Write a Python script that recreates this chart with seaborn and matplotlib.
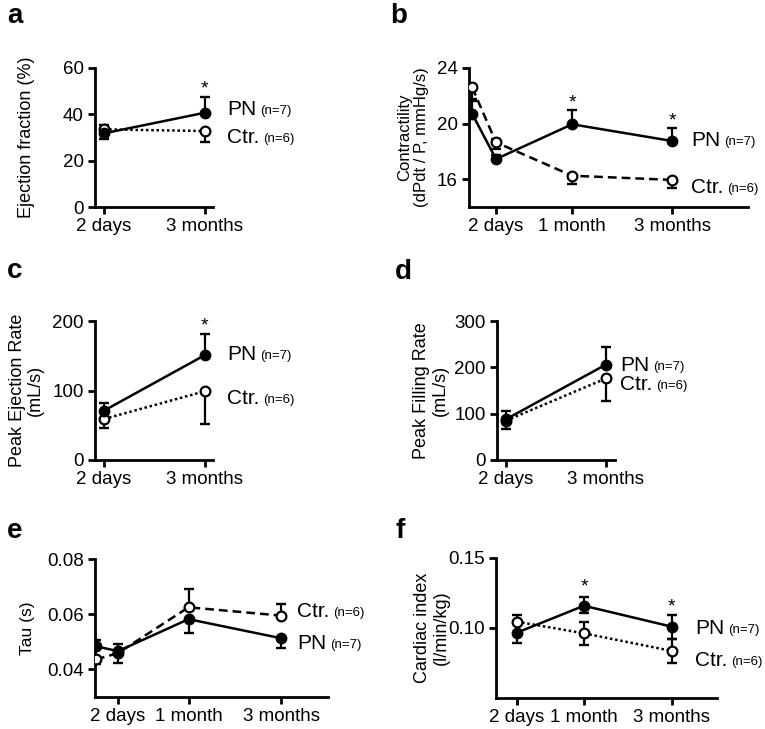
import numpy as np
import pandas as pd
import matplotlib
matplotlib.use("Agg")
import matplotlib.pyplot as plt
import seaborn as sns

sns.set_style("ticks")
plt.rcParams["font.family"] = ["Liberation Sans", "DejaVu Sans"]
plt.rcParams["text.color"] = "black"
plt.rcParams["axes.labelcolor"] = "black"
plt.rcParams["axes.edgecolor"] = "black"
plt.rcParams["xtick.color"] = "black"
plt.rcParams["ytick.color"] = "black"

# ---- values ----
# a: ejection fraction (%)
a_time = ["2 days", "3 months"]
a_pn = [31.8, 40.7]
a_pn_lo = [2.6, 0.0]
a_pn_hi = [0.0, 6.6]
a_ctr = [33.5, 32.8]
a_ctr_lo = [0.0, 4.9]
a_ctr_hi = [1.9, 0.0]
a_stars = [("3 months", 52.7)]
a_label_y = [41.9, 30.2]

# b: contractility
b_time = ["baseline", "2 days", "1 month", "3 months"]
b_pn = [20.7, 17.45, 19.95, 18.75]
b_pn_lo = [0.0, 0.0, 0.0, 0.0]
b_pn_hi = [0.9, 0.3, 1.05, 0.95]
b_ctr = [22.6, 18.65, 16.25, 15.95]
b_ctr_lo = [0.85, 0.5, 0.6, 0.55]
b_ctr_hi = [0.0, 0.25, 0.0, 0.0]
b_stars = [("1 month", 21.76), ("3 months", 20.48)]
b_label_y = [18.8, 15.4]

# c: peak ejection rate
c_time = ["2 days", "3 months"]
c_pn = [71.0, 151.0]
c_pn_lo = [0.0, 0.0]
c_pn_hi = [10.5, 30.0]
c_ctr = [59.0, 99.0]
c_ctr_lo = [13.5, 47.7]
c_ctr_hi = [0.0, 0.0]
c_stars = [("3 months", 199.0)]
c_label_y = [152.0, 88.8]

# d: peak filling rate
d_time = ["2 days", "3 months"]
d_pn = [88.0, 206.0]
d_pn_lo = [0.0, 0.0]
d_pn_hi = [18.0, 38.5]
d_ctr = [85.0, 176.0]
d_ctr_lo = [18.0, 48.0]
d_ctr_hi = [0.0, 0.0]
d_stars = []
d_label_y = [205.0, 162.0]

# e: tau
e_time = ["baseline", "2 days", "1 month", "3 months"]
e_pn = [0.0484, 0.0466, 0.0582, 0.0513]
e_pn_lo = [0.0, 0.0, 0.0050, 0.0035]
e_pn_hi = [0.0024, 0.0027, 0.0, 0.0]
e_ctr = [0.0436, 0.0459, 0.0625, 0.0595]
e_ctr_lo = [0.0018, 0.0034, 0.0, 0.0]
e_ctr_hi = [0.0, 0.0, 0.0066, 0.0042]
e_stars = []
e_label_y = [0.0495, 0.0610]

# f: cardiac index
f_time = ["2 days", "1 month", "3 months"]
f_pn = [0.0967, 0.1159, 0.1009]
f_pn_lo = [0.0076, 0.0055, 0.0090]
f_pn_hi = [0.0, 0.0060, 0.0084]
f_ctr = [0.1045, 0.0962, 0.0836]
f_ctr_lo = [0.0, 0.0083, 0.0084]
f_ctr_hi = [0.0048, 0.0079, 0.0084]
f_stars = [("1 month", 0.1324), ("3 months", 0.1176)]
f_label_y = [0.100, 0.0771]

# ---- layout ----
W, H = 765, 729
TIME_POS = {"baseline": 0.0, "2 days": 1.0, "1 month": 4.2, "3 months": 8.4}


def axes_rect(left, right, top, bottom):
    return [left / W, 1 - bottom / H, (right - left) / W, (bottom - top) / H]


def draw_err(ax, x, y, lo, hi):
    x, y, lo, hi = map(np.asarray, (x, y, lo, hi))
    for sign, e in ((-1, lo), (1, hi)):
        m = e > 0
        if not m.any():
            continue
        end = y[m] + sign * e[m]
        ax.vlines(x[m], y[m], end, color="black", lw=1.6, zorder=2)
        ax.plot(x[m], end, ls="none", marker="_", ms=7.5, mew=1.7,
                color="black", zorder=2)


def draw_panel(ax, times, pn, pn_lo, pn_hi, ctr, ctr_lo, ctr_hi,
               ctr_ls, stars, label_y, label_dx):
    x = [TIME_POS[t] for t in times]
    df = pd.DataFrame({"x": x * 2, "y": pn + ctr,
                       "group": ["PN"] * len(x) + ["Ctr."] * len(x)})
    draw_err(ax, x, ctr, ctr_lo, ctr_hi)
    draw_err(ax, x, pn, pn_lo, pn_hi)
    sns.lineplot(data=df[df["group"] == "Ctr."], x="x", y="y", ax=ax,
                 color="black", lw=1.8, linestyle=ctr_ls, marker="o",
                 markersize=7, markerfacecolor="white",
                 markeredgecolor="black", markeredgewidth=1.6, zorder=3)
    sns.lineplot(data=df[df["group"] == "PN"], x="x", y="y", ax=ax,
                 color="black", lw=1.8, marker="o", markersize=7.5,
                 markerfacecolor="black", markeredgecolor="black",
                 markeredgewidth=1.0, zorder=4)
    for t, sy in stars:
        ax.annotate("*", xy=(TIME_POS[t], sy), xytext=(0, -4),
                    textcoords="offset pixels", ha="center", va="center",
                    fontsize=14, annotation_clip=False)
    xl = TIME_POS[times[-1]]
    for name, n, ly in zip(["PN", "Ctr."], ["(n=7)", "(n=6)"], label_y):
        t = ax.annotate(name, xy=(xl, ly), xytext=(label_dx, 0),
                        textcoords="offset pixels", va="center",
                        fontsize=15, annotation_clip=False)
        ax.annotate(n, xy=(1, 0.5), xycoords=t, xytext=(4, -1.5),
                    textcoords="offset pixels", va="center", fontsize=9.5)
    ax.set_xticks([TIME_POS[t] for t in times if t != "baseline"])
    ax.set_xticklabels([t for t in times if t != "baseline"])
    ax.set_xlabel("")
    sns.despine(ax=ax)
    for s in ("left", "bottom"):
        ax.spines[s].set_linewidth(2)
    ax.tick_params(width=2, length=5, labelsize=13.5, pad=3)


fig = plt.figure(figsize=(W / 100, H / 100), dpi=100)

panels = [
    # letter, rect, xlim, ylim, yticks, ylabel, label size, label x,
    # data, ctr line style, stars, label y, label dx, tick format
    ("a", axes_rect(95, 213, 68, 207), (0.34, 8.99), (0, 60), [0, 20, 40, 60],
     "Ejection fraction (%)", 13, -0.58,
     (a_time, a_pn, a_pn_lo, a_pn_hi, a_ctr, a_ctr_lo, a_ctr_hi),
     (0, (1, 1.1)), a_stars, a_label_y, 22, "%g"),
    ("b", axes_rect(469, 748, 68, 207), (-0.134, 11.59), (14, 24), [16, 20, 24],
     "Contractility\n(dPdt / P, mmHg/s)", 12, -0.20,
     (b_time, b_pn, b_pn_lo, b_pn_hi, b_ctr, b_ctr_lo, b_ctr_hi),
     (0, (3.5, 2)), b_stars, b_label_y, 19, "%g"),
    ("c", axes_rect(95, 213, 321, 460), (0.34, 8.99), (0, 200), [0, 100, 200],
     "Peak Ejection Rate\n(mL/s)", 13, -0.58,
     (c_time, c_pn, c_pn_lo, c_pn_hi, c_ctr, c_ctr_lo, c_ctr_hi),
     (0, (1, 1.1)), c_stars, c_label_y, 22, "%g"),
    ("d", axes_rect(497, 615, 321, 460), (0.33, 9.07), (0, 300), [0, 100, 200, 300],
     "Peak Filling Rate\n(mL/s)", 13, -0.56,
     (d_time, d_pn, d_pn_lo, d_pn_hi, d_ctr, d_ctr_lo, d_ctr_hi),
     (0, (1, 1.1)), d_stars, d_label_y, 14, "%g"),
    ("e", axes_rect(95, 328, 559, 697), (-0.044, 10.53), (0.03, 0.08),
     [0.04, 0.06, 0.08], "Tau (s)", 12.5, -0.29,
     (e_time, e_pn, e_pn_lo, e_pn_hi, e_ctr, e_ctr_lo, e_ctr_hi),
     (0, (3.5, 2)), e_stars, e_label_y, 16, "%.2f"),
    ("f", axes_rect(496, 717, 558, 698), (0.0, 10.55), (0.05, 0.15),
     [0.10, 0.15], "Cardiac index\n(l/min/kg)", 13, -0.29,
     (f_time, f_pn, f_pn_lo, f_pn_hi, f_ctr, f_ctr_lo, f_ctr_hi),
     (0, (1, 1.1)), f_stars, f_label_y, 23, "%.2f"),
]

letter_pos = {"a": (7, 23), "b": (390, 23), "c": (7, 278),
              "d": (395, 279), "e": (7, 538), "f": (395, 538)}

for (letter, rect, xlim, ylim, yticks, ylabel, lab_size, lab_x, data, ls,
     stars, label_y, dx, fmt) in panels:
    ax = fig.add_axes(rect)
    draw_panel(ax, *data, ls, stars, label_y, dx)
    ax.set_xlim(*xlim)
    ax.set_ylim(*ylim)
    ax.set_yticks(yticks)
    ax.set_yticklabels([fmt % v for v in yticks])
    ax.set_ylabel(ylabel, fontsize=lab_size, va="center", linespacing=1.1)
    ax.yaxis.set_label_coords(lab_x, 0.5)
    lx, ly = letter_pos[letter]
    fig.text(lx / W, 1 - ly / H, letter, fontsize=20, fontweight="bold",
             va="baseline")

fig.savefig("out.png", dpi=100)
plt.close(fig)
